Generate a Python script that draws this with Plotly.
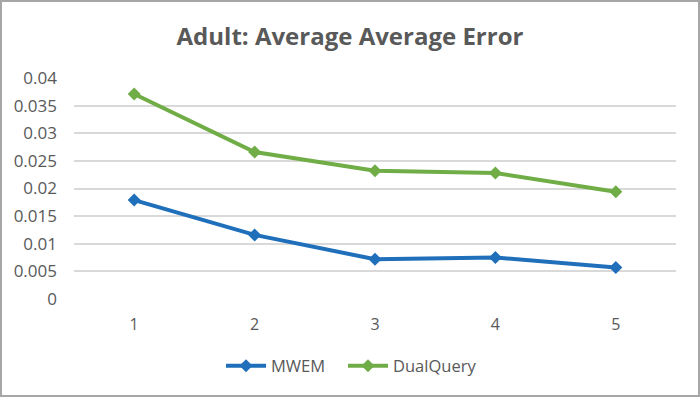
import plotly.graph_objects as go

# donnees
essais = [1, 2, 3, 4, 5]
mwem = [0.0179, 0.0116, 0.0072, 0.0075, 0.0057]
dualquery = [0.0371, 0.0266, 0.0232, 0.0228, 0.0194]
yticks = [0, 0.005, 0.01, 0.015, 0.02, 0.025, 0.03, 0.035, 0.04]
ylabels = ["0", "0.005", "0.01", "0.015", "0.02", "0.025", "0.03", "0.035", "0.04"]

bleu = "#1f6fba"
vert = "#70ad47"
gris = "#595959"

fig = go.Figure()
fig.add_trace(go.Scatter(x=essais, y=mwem, name="MWEM", mode="lines+markers",
                         line=dict(color=bleu, width=4), legend="legend",
                         marker=dict(symbol="diamond", size=10, color=bleu)))
fig.add_trace(go.Scatter(x=essais, y=dualquery, name="DualQuery", mode="lines+markers",
                         line=dict(color=vert, width=4), legend="legend2",
                         marker=dict(symbol="diamond", size=10, color=vert)))

ml, mr, mt, mb = 74, 24, 78, 98
pw, ph = 700 - ml - mr, 397 - mt - mb

leg = dict(orientation="h", xanchor="left", y=-(366 - 299) / ph, yanchor="middle",
           font=dict(size=16.5, color=gris), itemwidth=40, bgcolor="rgba(0,0,0,0)")

fig.update_layout(
    width=700, height=397,
    margin=dict(l=ml, r=mr, t=mt, b=mb),
    paper_bgcolor="white", plot_bgcolor="white",
    font=dict(family="Open Sans, Liberation Sans, sans-serif", color=gris, size=17),
    title=dict(text="<b>Adult: Average Average Error</b>", x=0.5, xanchor="center",
               y=1 - 37 / 397, yanchor="middle",
               font=dict(size=24, color=gris, family="Open Sans, sans-serif")),
    xaxis=dict(range=[0.5, 5.5], tickvals=essais, showgrid=False, zeroline=False,
               showline=False, ticks="", ticklabelstandoff=14,
               tickfont=dict(size=16, color=gris)),
    yaxis=dict(range=[0, 0.04], tickvals=yticks, ticktext=ylabels, showgrid=True,
               gridcolor="#d9d9d9", gridwidth=1.5, zeroline=False, showline=False,
               ticks="", ticklabelstandoff=16, tickfont=dict(size=17, color=gris)),
    legend=dict(leg, x=(221 - ml) / pw),
    legend2=dict(leg, x=(343 - ml) / pw),
    showlegend=True,
)

# cadre exterieur gris
fig.add_shape(type="rect", xref="paper", yref="paper",
              x0=-(ml - 1) / pw, x1=1 + (mr - 1) / pw,
              y0=-(mb - 1) / ph, y1=1 + (mt - 1) / ph,
              line=dict(color="#a6a6a6", width=2), layer="below")

fig.write_html("out.html", config={"displayModeBar": False},
               post_script="document.body.style.margin='0';")
